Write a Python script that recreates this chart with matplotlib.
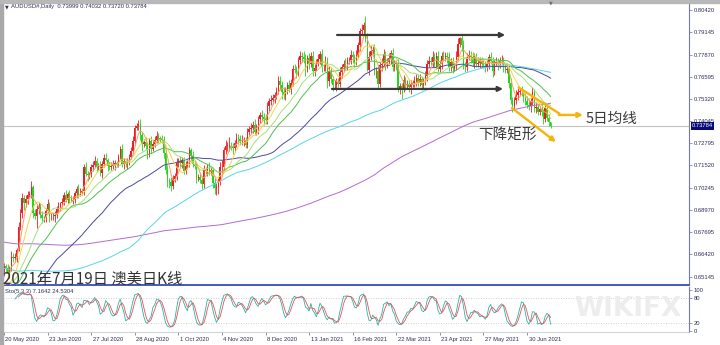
import numpy as np
import pandas as pd
import matplotlib
matplotlib.use('Agg')
import matplotlib.pyplot as plt
from matplotlib.patches import Rectangle
from matplotlib.transforms import blended_transform_factory, ScaledTranslation

W, H = 720, 345

# weekly closes before 20 May 2020 (only used to seed the moving averages)
pre_weekly = [0.690, 0.694, 0.698, 0.688, 0.692, 0.702, 0.698, 0.702, 0.703, 0.690,
              0.680, 0.678, 0.677, 0.676, 0.673, 0.684, 0.687, 0.677, 0.675, 0.675,
              0.682, 0.685, 0.682, 0.690, 0.686, 0.680, 0.679, 0.676, 0.684, 0.688,
              0.686, 0.697, 0.695, 0.686, 0.689, 0.684, 0.669, 0.667, 0.671, 0.660,
              0.652, 0.662, 0.628, 0.578, 0.614, 0.601, 0.637, 0.637, 0.637, 0.640,
              0.652, 0.641]

# daily closes, 20 May 2020 .. 19 Jul 2021
close_m = [
    [0.6575, 0.6565, 0.6530, 0.6555, 0.6630, 0.6620, 0.6630, 0.6670],
    [0.6800, 0.6880, 0.6965, 0.6935, 0.6960, 0.6985, 0.6985, 0.7030, 0.6880, 0.6865, 0.6905,
     0.6915, 0.6870, 0.6850, 0.6850, 0.6890, 0.6930, 0.6860, 0.6860, 0.6860, 0.6870, 0.6900],
    [0.6920, 0.6935, 0.6945, 0.6980, 0.6955, 0.6990, 0.6965, 0.6950, 0.6955, 0.6995, 0.7015,
     0.6985, 0.7000, 0.7005, 0.7140, 0.7100, 0.7095, 0.7105, 0.7140, 0.7155, 0.7175, 0.7145, 0.7145],
    [0.7110, 0.7160, 0.7195, 0.7185, 0.7150, 0.7145, 0.7150, 0.7155, 0.7165, 0.7160, 0.7200,
     0.7245, 0.7160, 0.7175, 0.7160, 0.7175, 0.7200, 0.7235, 0.7290, 0.7365, 0.7375],
    [0.7390, 0.7325, 0.7275, 0.7285, 0.7265, 0.7220, 0.7290, 0.7245, 0.7275, 0.7300, 0.7320,
     0.7310, 0.7305, 0.7300, 0.7225, 0.7125, 0.7060, 0.7055, 0.7035, 0.7075, 0.7090, 0.7165],
    [0.7175, 0.7165, 0.7180, 0.7120, 0.7150, 0.7170, 0.7240, 0.7205, 0.7160, 0.7150, 0.7080,
     0.7085, 0.7070, 0.7045, 0.7125, 0.7120, 0.7140, 0.7115, 0.7125, 0.7050, 0.7020, 0.7030],
    [0.7060, 0.7140, 0.7145, 0.7240, 0.7265, 0.7265, 0.7265, 0.7260, 0.7250, 0.7280, 0.7310,
     0.7305, 0.7290, 0.7295, 0.7295, 0.7270, 0.7345, 0.7360, 0.7365, 0.7385, 0.7345],
    [0.7360, 0.7415, 0.7440, 0.7430, 0.7415, 0.7410, 0.7495, 0.7520, 0.7525, 0.7540, 0.7555,
     0.7580, 0.7635, 0.7615, 0.7570, 0.7555, 0.7580, 0.7610, 0.7590, 0.7625, 0.7705, 0.7700],
    [0.7685, 0.7755, 0.7780, 0.7775, 0.7760, 0.7705, 0.7765, 0.7735, 0.7780, 0.7695, 0.7710,
     0.7740, 0.7760, 0.7790, 0.7715, 0.7715, 0.7750, 0.7635, 0.7690, 0.7645],
    [0.7610, 0.7610, 0.7630, 0.7620, 0.7685, 0.7715, 0.7735, 0.7730, 0.7755, 0.7755, 0.7785,
     0.7770, 0.7745, 0.7785, 0.7840, 0.7920, 0.7930, 0.7955, 0.7880, 0.7700],
    [0.7775, 0.7810, 0.7815, 0.7690, 0.7695, 0.7620, 0.7725, 0.7735, 0.7790, 0.7730, 0.7745,
     0.7765, 0.7795, 0.7715, 0.7735, 0.7730, 0.7590, 0.7605, 0.7595, 0.7640, 0.7615, 0.7620, 0.7600],
    [0.7620, 0.7620, 0.7635, 0.7655, 0.7625, 0.7645, 0.7615, 0.7630, 0.7665, 0.7735, 0.7750,
     0.7745, 0.7775, 0.7735, 0.7780, 0.7705, 0.7735, 0.7780, 0.7770, 0.7780, 0.7770, 0.7715],
    [0.7745, 0.7710, 0.7720, 0.7775, 0.7850, 0.7880, 0.7840, 0.7725, 0.7715, 0.7775, 0.7785,
     0.7770, 0.7740, 0.7775, 0.7735, 0.7740, 0.7755, 0.7735, 0.7730, 0.7715, 0.7735],
    [0.7770, 0.7750, 0.7690, 0.7740, 0.7745, 0.7730, 0.7750, 0.7755, 0.7715, 0.7700, 0.7705,
     0.7625, 0.7525, 0.7490, 0.7525, 0.7555, 0.7575, 0.7575, 0.7570, 0.7545, 0.7520, 0.7500],
    [0.7490, 0.7520, 0.7570, 0.7480, 0.7485, 0.7460, 0.7475, 0.7455, 0.7420, 0.7480, 0.7425,
     0.7400, 0.73784],
]
first_open = 0.6540

# upper / lower shadows in units of 0.001
up_m = [
    [2, 1, 2, 2, 3, 2, 2, 1],
    [3, 2, 3, 2, 2, 2, 2, 3, 1, 2, 2, 3, 2, 2, 1, 2, 3, 1, 2, 2, 2, 2],
    [2, 1, 2, 2, 3, 1, 2, 2, 2, 1, 2, 3, 2, 1, 2, 3, 2, 1, 2, 2, 3, 2, 2],
    [3, 2, 2, 3, 1, 2, 2, 3, 2, 1, 2, 2, 3, 2, 1, 2, 2, 2, 3, 2, 2],
    [2, 3, 2, 2, 3, 2, 2, 3, 2, 2, 3, 2, 1, 2, 2, 2, 3, 2, 3, 2, 2, 3],
    [2, 3, 2, 2, 3, 2, 2, 1, 3, 2, 2, 2, 3, 2, 3, 2, 2, 3, 2, 2, 3, 2],
    [2, 3, 4, 2, 3, 2, 5, 2, 2, 2, 3, 2, 2, 3, 2, 2, 2, 2, 3, 2, 3],
    [3, 2, 2, 3, 2, 3, 2, 2, 3, 2, 2, 2, 3, 3, 2, 3, 2, 2, 3, 2, 2, 3],
    [2, 2, 3, 2, 3, 3, 2, 3, 2, 3, 2, 2, 3, 2, 3, 2, 3, 2, 3, 2],
    [2, 3, 2, 2, 3, 2, 2, 3, 2, 2, 3, 2, 2, 3, 2, 2, 3, 2, 5, 3],
    [3, 3, 2, 3, 2, 3, 2, 3, 3, 2, 2, 3, 2, 3, 2, 2, 3, 2, 2, 3, 2, 2, 2],
    [2, 2, 3, 2, 2, 3, 2, 2, 3, 2, 3, 2, 3, 2, 2, 3, 2, 2, 3, 2, 2, 3],
    [2, 3, 2, 3, 3, 1, 2, 3, 2, 2, 3, 2, 3, 2, 2, 3, 2, 2, 3, 2, 2],
    [2, 3, 2, 2, 3, 2, 2, 3, 2, 2, 3, 2, 3, 2, 2, 3, 2, 2, 3, 2, 2, 3],
    [3, 2, 3, 2, 3, 2, 2, 3, 2, 2, 3, 2, 0],
]
dn_m = [
    [2, 3, 2, 2, 1, 2, 2, 3],
    [1, 2, 3, 4, 2, 3, 2, 2, 3, 2, 7, 3, 2, 3, 2, 2, 1, 3, 2, 2, 3, 2],
    [2, 3, 2, 2, 1, 2, 3, 1, 2, 2, 3, 2, 1, 2, 2, 1, 3, 2, 2, 2, 1, 3, 2],
    [2, 3, 2, 1, 3, 2, 2, 2, 3, 2, 2, 1, 2, 3, 2, 3, 2, 1, 2, 2, 1],
    [2, 3, 4, 2, 2, 3, 2, 2, 1, 2, 2, 3, 2, 2, 3, 2, 3, 3, 3, 2, 2, 2],
    [2, 2, 3, 2, 2, 2, 3, 2, 2, 2, 3, 2, 2, 3, 2, 2, 3, 2, 2, 3, 3, 4],
    [4, 2, 3, 2, 2, 3, 3, 2, 3, 2, 2, 3, 2, 2, 3, 2, 2, 2, 2, 3, 2],
    [2, 3, 2, 2, 3, 2, 2, 3, 2, 2, 3, 2, 2, 3, 4, 2, 3, 2, 2, 3, 2, 2],
    [3, 2, 2, 3, 2, 4, 2, 3, 2, 3, 3, 2, 2, 3, 3, 2, 2, 4, 3, 2],
    [3, 2, 3, 2, 2, 3, 2, 2, 3, 2, 2, 3, 3, 2, 2, 3, 2, 3, 2, 1],
    [3, 2, 3, 2, 4, 3, 2, 3, 2, 3, 2, 2, 3, 2, 2, 3, 2, 3, 6, 2, 3, 2, 3],
    [4, 2, 2, 3, 2, 2, 3, 2, 2, 3, 2, 2, 3, 2, 3, 2, 2, 3, 2, 2, 3, 2],
    [2, 3, 2, 2, 2, 2, 3, 2, 3, 2, 2, 3, 2, 3, 2, 2, 3, 2, 2, 3, 2],
    [3, 2, 3, 2, 2, 3, 2, 2, 3, 2, 2, 3, 2, 3, 2, 2, 3, 2, 2, 3, 2, 2],
    [2, 3, 2, 2, 3, 2, 2, 2, 3, 2, 2, 2, 1],
]

date_labels = ['20 May 2020', '23 Jun 2020', '27 Jul 2020', '28 Aug 2020', '1 Oct 2020',
               '4 Nov 2020', '8 Dec 2020', '13 Jan 2021', '16 Feb 2021', '22 Mar 2021',
               '23 Apr 2021', '27 May 2021', '30 Jun 2021']
label_step = 24
price_ticks = [0.80420, 0.79145, 0.77870, 0.76595, 0.75320, 0.74045, 0.72795,
               0.71520, 0.70245, 0.68970, 0.67695, 0.66420, 0.65145]
last_price = 0.73784
sto_levels = [0, 20, 80, 100]
ma_periods = [250, 120, 60, 30, 20, 10, 5]
ma_colors = ['#b46ad2', '#56d6e6', '#4a4a9c', '#4cc24c', '#a6e07a', '#efd64e', '#f7a35c']
header = 'AUDUSD#,Daily  0.73999 0.74032 0.73720 0.73784'
sto_text = 'Sto(5,3,3) 7.1642 24.5304'
title = '2021年7月19日 澳美日K线'

for a, b, c in zip(close_m, up_m, dn_m):
    assert len(a) == len(b) == len(c)

closes = np.concatenate([np.array(m) for m in close_m])
n = len(closes)
opens = np.r_[first_open, closes[:-1]]
highs = np.maximum(opens, closes) + np.concatenate(up_m) * 0.001
lows = np.minimum(opens, closes) - np.concatenate(dn_m) * 0.001
x = np.arange(n)

full = pd.Series(np.r_[np.repeat(pre_weekly, 5), closes])
npre = 5 * len(pre_weekly)

# stochastic 5,3,3
hh = pd.Series(highs).rolling(5).max()
ll = pd.Series(lows).rolling(5).min()
c_s = pd.Series(closes)
sto_main = 100 * (c_s - ll).rolling(3).sum() / (hh - ll).rolling(3).sum()
sto_sig = sto_main.rolling(3).mean()

plt.rcParams['font.family'] = ['Liberation Sans', 'DejaVu Sans']
fig = plt.figure(figsize=(W / 100, H / 100), dpi=100)


def fx(px):
    return px / W


def fy(py):
    return 1 - py / H


ax = fig.add_axes([fx(3), fy(285), fx(689) - fx(3), fy(3) - fy(285)])
ax_s = fig.add_axes([fx(3), fy(332), fx(689) - fx(3), fy(287) - fy(332)], sharex=ax)

# window frame
fig.patches.append(Rectangle((0, 0), fx(2.5), 1, transform=fig.transFigure, color='#a9a9a9', zorder=0))
fig.patches.append(Rectangle((0, fy(2.5)), 1, 2.5 / H, transform=fig.transFigure, color='#b8b8b8', zorder=0))

# watermark
fig.text(fx(628), fy(309), 'WIKIFX', fontsize=19, fontweight='bold', color='#ededed', ha='center',
         va='center', zorder=0, family='DejaVu Sans')

# current price line
ax.axhline(last_price, color='#c4c4c4', lw=0.8, zorder=1)

# candles
bull = closes >= opens
cols = np.where(bull, '#ee1c24', '#1fd51f')
ax.vlines(x, lows, highs, colors=cols, lw=0.6, zorder=2)
body_lo = np.minimum(opens, closes)
body_h = np.maximum(np.abs(closes - opens), 0.00015)
ax.bar(x, body_h, bottom=body_lo, width=0.75, color=cols, linewidth=0, zorder=2)

# moving averages
xm = np.arange(-1, n)
for p, col in zip(ma_periods, ma_colors):
    ma = full.rolling(p).mean().values[npre - 1:]
    ax.plot(xm, ma, color=col, lw=0.7, zorder=3)

# black range arrows
for x0, x1, yv in [(183.4, 276.0, 0.7899), (180.6, 274.8, 0.7590)]:
    ax.annotate('', xy=(x1, yv), xytext=(x0, yv),
                arrowprops=dict(arrowstyle='-|>', color='#3a3a3a', lw=1.6, mutation_scale=7,
                                shrinkA=0, shrinkB=0), zorder=5)

# gold channel
gold = '#f5b30c'
ax.plot([283.0, 306.2], [0.7601, 0.7446], color=gold, lw=1.7, solid_capstyle='butt', zorder=5)
ax.annotate('', xy=(318.8, 0.7441), xytext=(305.5, 0.7441),
            arrowprops=dict(arrowstyle='-|>', color=gold, lw=1.7, mutation_scale=7,
                            shrinkA=0, shrinkB=0), zorder=5)
ax.annotate('', xy=(303.9, 0.7286), xytext=(279.7, 0.7481),
            arrowprops=dict(arrowstyle='-|>', color=gold, lw=1.7, mutation_scale=7,
                            shrinkA=0, shrinkB=0), zorder=5)

ax.set_xlim(-0.55, -0.55 + 686 / 1.816)
ax.set_ylim(0.8042 - 275 * 0.0005727, 0.8042 + 7 * 0.0005727)

ax.yaxis.tick_right()
ax.set_yticks(price_ticks)
ax.set_yticklabels(['%.5f' % p for p in price_ticks])
ax.tick_params(axis='y', direction='out', length=2, width=0.5, pad=1.5, labelsize=4.2,
               color='#7070a8', labelcolor='#2e2e5e')
ax.tick_params(axis='x', bottom=False, labelbottom=False)
for s in ['left', 'top']:
    ax.spines[s].set_visible(False)
ax.spines['right'].set_color('#7878b0')
ax.spines['right'].set_linewidth(0.8)
ax.spines['bottom'].set_color('#4858c4')
ax.spines['bottom'].set_linewidth(1.4)

# highlighted last price
ax.text(1.004, last_price, '%.5f' % last_price, transform=blended_transform_factory(ax.transAxes, ax.transData),
        fontsize=4.2, color='white', va='center', ha='left', zorder=10, clip_on=False,
        bbox=dict(boxstyle='square,pad=0.2', fc='#0a0a78', ec='none'))

# stochastic panel
ax_s.axhline(80, color='#c0c0c0', lw=0.6, ls=(0, (1, 2)))
ax_s.axhline(20, color='#c0c0c0', lw=0.6, ls=(0, (1, 2)))
ax_s.plot(x, sto_main, color='#27b4a6', lw=0.6)
ax_s.plot(x, sto_sig, color='#e8505a', lw=0.6)
ax_s.set_ylim(-2.4, 107.3)
ax_s.yaxis.tick_right()
ax_s.set_yticks(sto_levels)
ax_s.set_yticklabels([str(v) for v in sto_levels])
ax_s.tick_params(axis='y', direction='out', length=2, width=0.5, pad=1.5, labelsize=4.2,
                 color='#7070a8', labelcolor='#2e2e5e')
ax_s.set_xticks(np.arange(len(date_labels)) * label_step)
ax_s.set_xticklabels(date_labels, ha='left')
ax_s.tick_params(axis='x', direction='out', length=2.5, width=0.5, pad=1.2, labelsize=4.2,
                 color='#606080', labelcolor='#2e2e5e')
for lab in ax_s.get_xticklabels():
    lab.set_transform(lab.get_transform() + ScaledTranslation(0.015, 0, fig.dpi_scale_trans))
for s in ['left', 'top']:
    ax_s.spines[s].set_visible(False)
ax_s.spines['right'].set_color('#7878b0')
ax_s.spines['right'].set_linewidth(0.8)
ax_s.spines['bottom'].set_color('#c8c8d0')
ax_s.spines['bottom'].set_linewidth(0.6)

# texts
fig.text(fx(5), fy(6.5), '▼', fontsize=3.5, color='#2e2e5e', va='center', family='DejaVu Sans')
fig.text(fx(11), fy(6.5), header, fontsize=4.2, color='#2e2e5e', va='center')
fig.text(fx(551), fy(2.5), '▼', fontsize=3.5, color='#707070', va='center', ha='center', family='DejaVu Sans')
fig.text(fx(5), fy(292), sto_text, fontsize=4.2, color='#2e2e5e', va='center')
cjk = ['Noto Sans CJK SC', 'DejaVu Sans']
fig.text(fx(3), fy(279), title, fontsize=11, color='#333333', va='center', family=cjk)
fig.text(fx(478), fy(135), '下降矩形', fontsize=10.5, color='#3a3a3a', va='center', family=cjk)
fig.text(fx(586), fy(119), '5日均线', fontsize=10.5, color='#3a3a3a', va='center', family=cjk)

fig.savefig('out.png', dpi=100)
